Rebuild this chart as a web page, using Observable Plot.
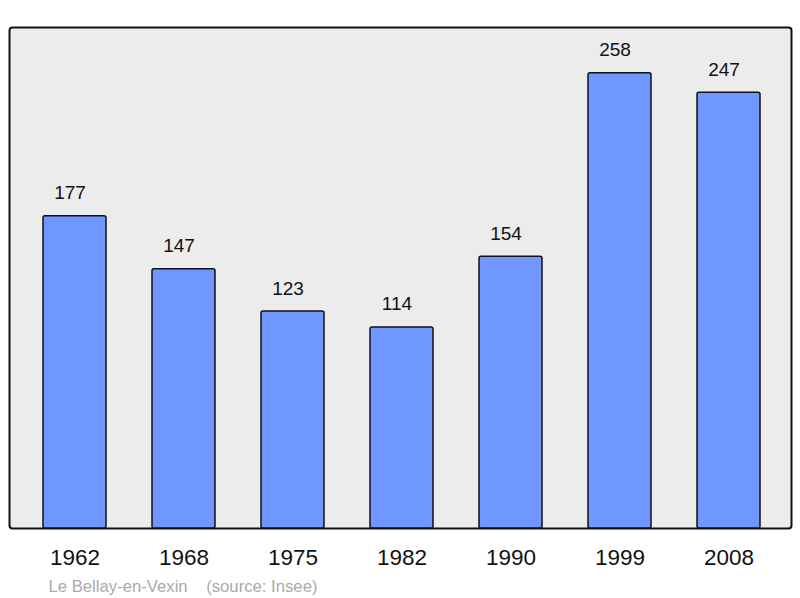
<!DOCTYPE html>
<html><head><meta charset="utf-8">
<script src="https://cdn.jsdelivr.net/npm/d3@7"></script>
<script src="https://cdn.jsdelivr.net/npm/@observablehq/plot@0.6"></script>
<style>body{margin:0;background:#fff;font-family:"Liberation Sans",Arial,sans-serif}</style>
</head><body><div id="chart"></div>
<script>
const years = ["1962","1968","1975","1982","1990","1999","2008"];
const population = [177,147,123,114,154,258,247];
const caption = "Le Bellay-en-Vexin    (source: Insee)";
const data = years.map((y,i)=>({year:y, pop:population[i]}));
const chart = Plot.plot({
  width: 800, height: 598,
  marginLeft: 9, marginRight: 9, marginTop: 27, marginBottom: 70,
  style: {fontFamily: '"Liberation Sans", Arial, sans-serif', background: "#fff"},
  x: {domain: years, range: [41.5, 762.5], paddingInner: 0.42, paddingOuter: 0, axis: null},
  y: {domain: [0, 284], axis: null},
  marks: [
    Plot.frame({fill: "#ececec", stroke: "#111", strokeWidth: 2, rx: 3}),
    Plot.barY(data, {x: "year", y: "pop", fill: "#7097ff", stroke: "#111", strokeWidth: 1.5, rx: 2}),
    Plot.text(data, {x: "year", y: "pop", text: d => String(d.pop), dx: -5, dy: -23, fontSize: 19, fill: "#111"}),
    Plot.text(data, {x: "year", text: "year", frameAnchor: "bottom", dy: 36, fontSize: 22.5, fill: "#111"}),
    Plot.text([caption], {frameAnchor: "bottom-left", dx: 39, dy: 63, text: d => d, textAnchor: "start", fontSize: 16.7, fill: "#aaa", style: "white-space:pre"})
  ]
});
document.getElementById("chart").appendChild(chart);
</script></body></html>
